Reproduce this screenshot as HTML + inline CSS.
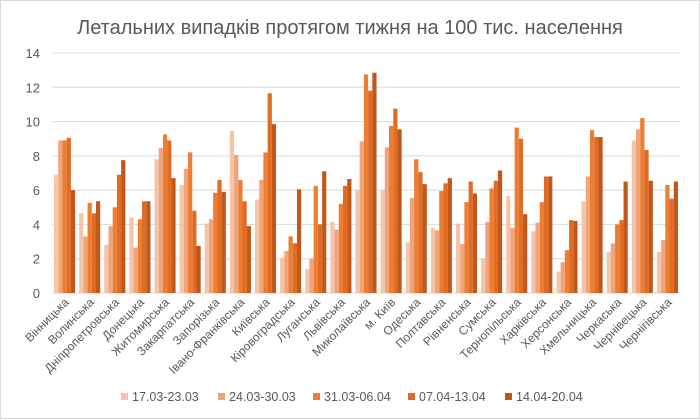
<!DOCTYPE html>
<html><head><meta charset="utf-8"><style>
body{margin:0;background:#fff;}
svg{display:block;font-family:"Liberation Sans",sans-serif;}
</style></head><body>
<svg id="chart" width="700" height="420" viewBox="0 0 700 420">
<rect x="0.5" y="0.5" width="699" height="418" fill="#fff" stroke="#d9d9d9"/>
<text x="350" y="34" text-anchor="middle" font-size="20" fill="#595959">Летальних випадків протягом тижня на 100 тис. населення</text>
<g id="grid"></g><g id="bars"></g><g id="xlabels"></g><g id="legend"></g>
</svg>
<script>
const categories=["Вінницька","Волинська","Дніпропетровська","Донецька","Житомирська","Закарпатська","Запорізька","Івано-Франківська","Київська","Кіровоградська","Луганська","Львівська","Миколаївська","м. Київ","Одеська","Полтавська","Рівненська","Сумська","Тернопільська","Харківська","Херсонська","Хмельницька","Черкаська","Чернівецька","Чернігівська"];
const seriesNames=["17.03-23.03","24.03-30.03","31.03-06.04","07.04-13.04","14.04-20.04"];
const s1=[6.9,4.65,2.8,4.4,7.8,6.3,4.05,9.45,5.45,2.05,1.4,4.15,6.0,6.0,2.95,3.8,4.05,2.0,5.65,3.6,1.25,5.35,2.4,8.9,2.4];
const s2=[8.9,3.3,3.9,2.65,8.45,7.25,4.3,8.05,6.6,2.45,2.0,3.7,8.85,8.5,5.55,3.65,2.85,4.15,3.8,4.1,1.8,6.8,2.9,9.55,3.1];
const s3=[8.9,5.25,5.0,4.3,9.25,8.2,5.85,6.6,8.2,3.3,6.25,5.2,12.75,9.75,7.8,5.95,5.3,6.1,9.65,5.3,2.5,9.5,4.0,10.2,6.3];
const s4=[9.05,4.65,6.9,5.35,8.9,4.8,6.6,5.35,11.65,2.9,4.0,6.25,11.8,10.75,7.05,6.4,6.5,6.55,9.0,6.8,4.25,9.1,4.25,8.35,5.5];
const s5=[6.0,5.35,7.75,5.35,6.7,2.75,5.9,3.9,9.85,6.05,7.1,6.65,12.85,9.55,6.35,6.7,5.8,7.15,4.6,6.8,4.2,9.1,6.5,6.55,6.5];
const yTicks=[0,2,4,6,8,10,12,14];
const series=[s1,s2,s3,s4,s5];
const colors=["#f6c4a8","#f0a47c","#ed7d31","#e06b25","#c0581b"];
const NS="http://www.w3.org/2000/svg";
const L=52,R=680,Y0=293,Y1=53,YMAX=14;
const y=v=>Y0-(v/YMAX)*(Y0-Y1);
const gw=(R-L)/categories.length;
const x=i=>L+i*gw;
function mk(t,a,p){const e=document.createElementNS(NS,t);for(const k in a)e.setAttribute(k,a[k]);p.appendChild(e);return e;}
const grid=document.getElementById('grid');
yTicks.forEach(t=>{
 const l=mk('line',{x1:L,x2:R,y1:y(t),y2:y(t),stroke:'#d9d9d9','stroke-width':1},grid);
 
 
 const tx=mk('text',{x:40,y:y(t)+5,'text-anchor':'end','font-size':13,fill:'#595959'},grid);
 tx.textContent=t;
 
 
});
const bars=document.getElementById('bars');
const bw=gw*0.84/5;
categories.forEach((c,i)=>{
 series.forEach((s,j)=>{
  const r=mk('rect',{x:x(i)+gw*0.08+j*bw,y:y(s[i]),width:bw,height:Y0-y(s[i]),fill:colors[j]},bars);
  
  
 });
 const cx=x(i)+gw/2+5;
 const t=mk('text',{x:cx,y:303,'text-anchor':'end','font-size':12,fill:'#595959',transform:`rotate(-45 ${cx} 303)`},document.getElementById('xlabels'));
 t.textContent=c;
 
 
});
const lg=document.getElementById('legend');
const lx=[121,218,313,408,505];
seriesNames.forEach((n,j)=>{
 const g=mk('g',{},lg);
 
 
 mk('rect',{x:lx[j],y:393,width:7,height:7,fill:colors[j]},g);
 const t=mk('text',{x:lx[j]+11,y:401,'font-size':12.5,fill:'#595959'},g);
 t.textContent=n;
});
</script>
</body></html>
